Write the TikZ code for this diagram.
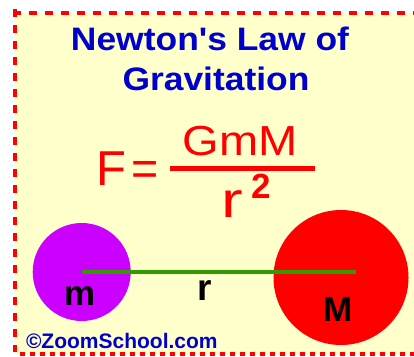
\documentclass[tikz,border=0pt]{standalone}
\usepackage{fontspec}
\setmainfont{Liberation Sans}[Ligatures=TeXOff]
\definecolor{bgyellow}{HTML}{FFFFCC}
\definecolor{titleblue}{HTML}{0000CC}
\definecolor{mpurple}{HTML}{CC00FF}
\definecolor{Mred}{HTML}{FF0000}
\definecolor{rgreen}{HTML}{339900}
\newcommand{\fsz}[1]{\fontsize{#1}{#1}\selectfont}
\tikzset{
  txt/.style={inner sep=0pt, outer sep=0pt, anchor=base},
  title/.style={txt, text=titleblue, font=\bfseries\fsz{32.5}},
  formula/.style={txt, text=Mred},
  label/.style={txt, text=black, font=\bfseries},
  border/.style={draw=Mred, line width=4.5pt, line cap=butt},
  mass/.style={circle, inner sep=0pt, outer sep=0pt, draw=none}
}
\begin{document}
\begin{tikzpicture}[x=1pt,y=-1pt]
\useasboundingbox (0,0) rectangle (414,356);
% background
\fill[bgyellow] (15,13) rectangle (414,354);
% dashed border
\draw[border, dash pattern=on 8pt off 8pt] (13,13) -- (414,13);
\draw[border, dash pattern=on 8pt off 8pt] (15,9) -- (15,352);
\draw[border, line width=4pt, dash pattern=on 5pt off 5pt] (20,354) -- (414,354);
% title
\node[title] (t1) at (210,50) {\scalebox{1.09}[1]{Newton's Law of}};
\node[title] (t2) at (216,90.5) {\scalebox{1.09}[1]{Gravitation}};
% formula
\node[formula, font=\fsz{49}] (F) at (111,185) {F};
\node[formula, font=\fsz{49}] (eq) at (145,185) {\scalebox{0.95}[1]{=}};
\node[formula, font=\fsz{42}] (num) at (240,155) {\scalebox{1.12}[1]{GmM}};
\fill[Mred] (170,166) rectangle (315,170.5);
\node[formula, font=\fsz{50}] (rr) at (232.5,217) {\scalebox{1.3}[1]{r}};
\node[formula, font=\bfseries\fsz{35}] (two) at (261,198) {2};
% masses
\node[mass, fill=mpurple, minimum size=98pt] (small) at (81.7,272) {};
\node[mass, fill=Mred, minimum size=135pt] (large) at (341,277.5) {};
\coordinate (rend) at (356,272);
\draw[rgreen, line width=3.5pt] (small.center) -- (rend);
% labels
\node[label, font=\bfseries\fsz{35}] (m) at (80,305) {m};
\node[label, font=\bfseries\fsz{37}] (r) at (205,300) {r};
\node[label, font=\bfseries\fsz{35}] (M) at (338.5,321.7) {M};
\node[txt, anchor=base west, text=titleblue, font=\bfseries\fsz{21}] (copy) at (26,348) {©ZoomSchool.com};
\end{tikzpicture}
\end{document}
